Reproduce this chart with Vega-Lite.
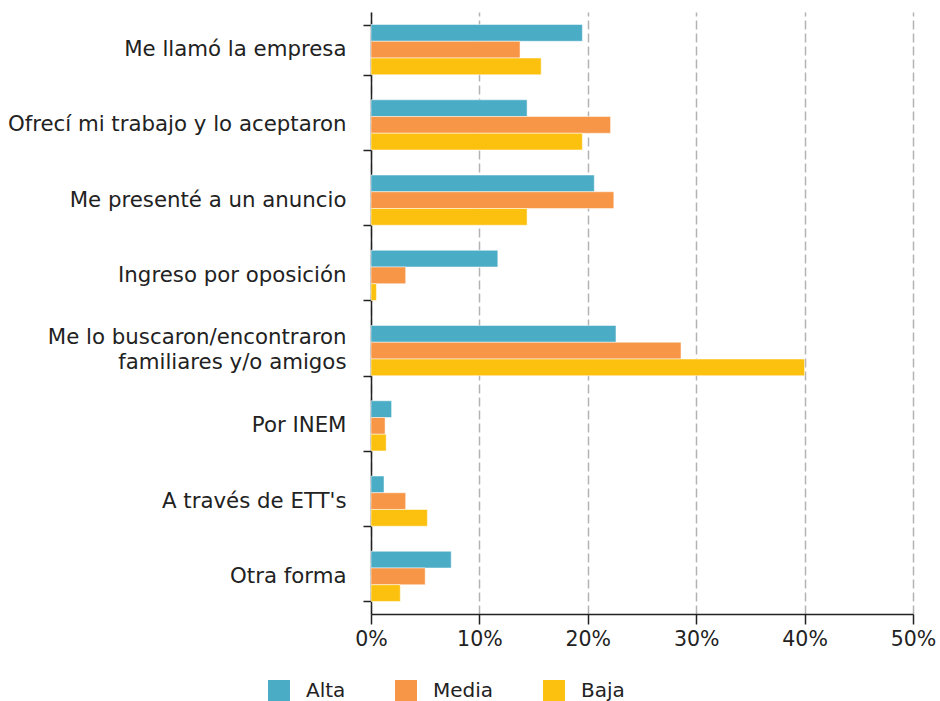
{
  "$schema": "https://vega.github.io/schema/vega-lite/v6.json",
  "width": 542,
  "height": 602,
  "autosize": "none",
  "padding": {"left": 371, "top": 12, "right": 27, "bottom": 87},
  "background": "white",
  "config": {
    "font": "DejaVu Sans",
    "view": {"stroke": null},
    "axis": {"labelFont": "DejaVu Sans", "labelColor": "#222222", "labelFontSize": 20.5}
  },
  "data": {
    "values": [
      {"forma": "Me llamó la empresa", "grupo": "Alta", "valor": 19.5},
      {"forma": "Me llamó la empresa", "grupo": "Media", "valor": 13.75},
      {"forma": "Me llamó la empresa", "grupo": "Baja", "valor": 15.7},
      {"forma": "Ofrecí mi trabajo y lo aceptaron", "grupo": "Alta", "valor": 14.4},
      {"forma": "Ofrecí mi trabajo y lo aceptaron", "grupo": "Media", "valor": 22.1},
      {"forma": "Ofrecí mi trabajo y lo aceptaron", "grupo": "Baja", "valor": 19.5},
      {"forma": "Me presenté a un anuncio", "grupo": "Alta", "valor": 20.6},
      {"forma": "Me presenté a un anuncio", "grupo": "Media", "valor": 22.4},
      {"forma": "Me presenté a un anuncio", "grupo": "Baja", "valor": 14.4},
      {"forma": "Ingreso por oposición", "grupo": "Alta", "valor": 11.7},
      {"forma": "Ingreso por oposición", "grupo": "Media", "valor": 3.2},
      {"forma": "Ingreso por oposición", "grupo": "Baja", "valor": 0.5},
      {"forma": "Me lo buscaron/encontraron familiares y/o amigos", "grupo": "Alta", "valor": 22.6},
      {"forma": "Me lo buscaron/encontraron familiares y/o amigos", "grupo": "Media", "valor": 28.6},
      {"forma": "Me lo buscaron/encontraron familiares y/o amigos", "grupo": "Baja", "valor": 40.0},
      {"forma": "Por INEM", "grupo": "Alta", "valor": 1.9},
      {"forma": "Por INEM", "grupo": "Media", "valor": 1.3},
      {"forma": "Por INEM", "grupo": "Baja", "valor": 1.4},
      {"forma": "A través de ETT's", "grupo": "Alta", "valor": 1.2},
      {"forma": "A través de ETT's", "grupo": "Media", "valor": 3.2},
      {"forma": "A través de ETT's", "grupo": "Baja", "valor": 5.2},
      {"forma": "Otra forma", "grupo": "Alta", "valor": 7.4},
      {"forma": "Otra forma", "grupo": "Media", "valor": 5.0},
      {"forma": "Otra forma", "grupo": "Baja", "valor": 2.7}
    ]
  },
  "mark": {"type": "bar", "stroke": "white", "strokeWidth": 0.5},
  "encoding": {
    "y": {
      "field": "forma",
      "type": "nominal",
      "sort": null,
      "title": null,
      "scale": {"paddingInner": 0.333, "paddingOuter": 0.1667},
      "axis": {
        "tickBand": "extent",
        "domainColor": "#222222",
        "domainWidth": 1.5,
        "tickColor": "#222222",
        "tickWidth": 1.5,
        "tickSize": 8,
        "labelPadding": 17,
        "labelLimit": 400,
        "labelFontSize": 21.3,
        "labelLineHeight": 25,
        "labelOffset": {"condition": {"test": "datum.value == 'Me lo buscaron/encontraron familiares y/o amigos'", "value": -13}, "value": 0},
        "grid": false,
        "labelExpr": "datum.label == 'Me lo buscaron/encontraron familiares y/o amigos' ? ['Me lo buscaron/encontraron\u00a0', 'familiares y/o amigos'] : datum.label"
      }
    },
    "yOffset": {
      "field": "grupo",
      "type": "nominal",
      "sort": ["Alta", "Media", "Baja"],
      "scale": {"paddingInner": 0, "paddingOuter": 0}
    },
    "x": {
      "field": "valor",
      "type": "quantitative",
      "title": null,
      "scale": {"domain": [0, 50], "nice": false},
      "axis": {
        "values": [0, 10, 20, 30, 40, 50],
        "labelExpr": "datum.value + '%'",
        "domainColor": "#222222",
        "domainWidth": 1.5,
        "tickColor": "#222222",
        "tickWidth": 1.5,
        "tickSize": 10,
        "labelPadding": 5,
        "labelFlush": false,
        "grid": true,
        "gridColor": "#b3b3b3",
        "gridWidth": 1.5,
        "gridDash": [9, 4]
      }
    },
    "color": {
      "field": "grupo",
      "type": "nominal",
      "sort": ["Alta", "Media", "Baja"],
      "scale": {"domain": ["Alta", "Media", "Baja"], "range": ["#4BACC6", "#F79646", "#FCC10E"]},
      "legend": {
        "title": null,
        "orient": "none",
        "direction": "horizontal",
        "legendX": -103,
        "legendY": 668,
        "symbolType": "square",
        "symbolSize": 484,
        "symbolStrokeWidth": 0,
        "labelFont": "DejaVu Sans",
        "labelFontSize": 20,
        "labelColor": "#222222",
        "labelOffset": 16,
        "columnPadding": 49,
        "padding": 0
      }
    }
  }
}
